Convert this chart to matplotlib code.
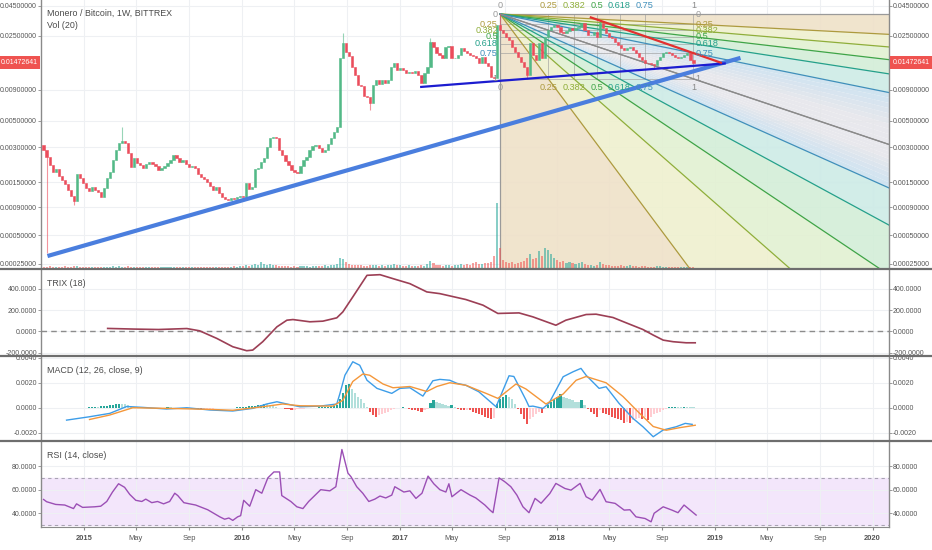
#!/usr/bin/env python3
# -*- coding: utf-8 -*-
"""
Monero / Bitcoin weekly chart (BITTREX) with fib speed fan, TRIX, MACD and RSI panes
"""

import numpy as np
import matplotlib
matplotlib.use("Agg")
import matplotlib.pyplot as plt
import matplotlib.dates as mdates
import matplotlib.transforms as mtransforms
from matplotlib.patches import Polygon
from matplotlib.lines import Line2D
from matplotlib.ticker import FixedLocator, FuncFormatter, NullLocator

plt.rcParams['font.family'] = ['Liberation Sans', 'DejaVu Sans']

# ---------------- data ----------------
START = '2014-09-29'          # first weekly bar
first_open = 0.00313
closes = [
    0.00284, 0.00248, 0.00211, 0.00184, 0.00195, 0.00170, 0.00157, 0.00145, 0.00128, 0.00113,
    0.00102, 0.00177, 0.00163, 0.00148, 0.00133, 0.00126, 0.00136, 0.00128, 0.00123, 0.00111,
    0.00133, 0.00163, 0.00184, 0.00233, 0.00284, 0.00326, 0.00339, 0.00326, 0.00268, 0.00203,
    0.00243, 0.00220, 0.00211, 0.00199, 0.00216, 0.00224, 0.00216, 0.00207, 0.00191, 0.00199,
    0.00207, 0.00220, 0.00233, 0.00258, 0.00243, 0.00224, 0.00233, 0.00216, 0.00203, 0.00207,
    0.00199, 0.00177, 0.00167, 0.00160, 0.00151, 0.00139, 0.00128, 0.00136, 0.00121, 0.00111,
    0.00107, 0.00105, 0.00109, 0.00107, 0.00111, 0.00113, 0.00111, 0.00148, 0.00131, 0.00136,
    0.00195, 0.00199, 0.00224, 0.00243, 0.00302, 0.00359, 0.00366, 0.00359, 0.00284, 0.00258,
    0.00229, 0.00211, 0.00191, 0.00184, 0.00180, 0.00207, 0.00233, 0.00248, 0.00284, 0.00307,
    0.00313, 0.00296, 0.00273, 0.00284, 0.00320, 0.00359, 0.00402, 0.00443, 0.0162, 0.0218,
    0.0182, 0.0168, 0.0136, 0.0118, 0.00985, 0.00967, 0.00802, 0.00787, 0.00702, 0.00985,
    0.0108, 0.0100, 0.0108, 0.0102, 0.0108, 0.0136, 0.01464, 0.0129, 0.0134, 0.0129,
    0.0122, 0.0125, 0.0122, 0.0127, 0.0118, 0.0102, 0.0122, 0.0136, 0.0222, 0.0201,
    0.0178, 0.0172, 0.0162, 0.0201, 0.0205, 0.0162, 0.0162, 0.0172, 0.0197, 0.0186,
    0.0178, 0.0172, 0.0168, 0.0162, 0.01464, 0.0165, 0.01464, 0.0139, 0.0114, 0.0112,
    0.0310, 0.0281, 0.0265, 0.0245, 0.0231, 0.0201, 0.0182, 0.0165, 0.0149, 0.0136,
    0.0118, 0.0218, 0.0172, 0.0155, 0.0218, 0.0162, 0.0245, 0.0281, 0.0298, 0.0310,
    0.0298, 0.0270, 0.0265, 0.0275, 0.0292, 0.0281, 0.0292, 0.0298, 0.0322, 0.0281,
    0.0255, 0.0255, 0.0270, 0.0245, 0.0322, 0.0292, 0.0265, 0.0245, 0.0240, 0.0222,
    0.0209, 0.0197, 0.0189, 0.0197, 0.0201, 0.0189, 0.0178, 0.0165, 0.0155, 0.01464,
    0.01455, 0.01438, 0.0141, 0.0155, 0.0165, 0.0178, 0.0182, 0.0178, 0.0172, 0.0165,
    0.0162, 0.0165, 0.0172, 0.0178, 0.0155, 0.01472641,
]
last_price = 0.01472641

# notable wicks: week index and extreme price
wick_weeks = [1, 10, 26, 99, 108, 128, 151, 160, 184, 202]
wick_prices = [0.000326, 0.00094, 0.00443, 0.0265, 0.0061, 0.024, 0.0383, 0.0110, 0.0341, 0.0134]

volume = [
    1, 1, 2, 1, 1, 1, 1, 2, 1, 1,  2, 2, 1, 1, 1, 1, 1, 1, 1, 1,
    1, 1, 1, 2, 1, 2, 1, 1, 2, 1,  1, 1, 1, 1, 1, 1, 1, 1, 1, 1,
    1, 1, 1, 1, 1, 1, 1, 1, 1, 1,  1, 1, 1, 1, 1, 1, 1, 1, 1, 1,
    1, 1, 1, 2, 1, 2, 2, 3, 2, 3,  4, 3, 6, 4, 3, 4, 3, 3, 2, 2,
    2, 2, 1, 2, 1, 2, 2, 2, 1, 2,  2, 2, 2, 3, 2, 3, 3, 4, 10, 9,
    6, 4, 3, 3, 3, 3, 2, 2, 3, 3,  3, 2, 3, 2, 3, 3, 4, 3, 3, 2,
    2, 3, 2, 2, 2, 3, 2, 4, 7, 5,  3, 3, 2, 3, 3, 2, 3, 3, 4, 3,
    4, 3, 5, 6, 4, 4, 5, 5, 6, 12,  65, 20, 8, 6, 5, 6, 4, 5, 6, 7,
    10, 14, 9, 10, 17, 12, 20, 18, 14, 10,  8, 6, 7, 5, 6, 5, 4, 5, 6, 4,
    3, 3, 2, 3, 6, 4, 3, 3, 2, 2,  2, 3, 2, 2, 3, 2, 2, 1, 2, 2,
    1, 1, 1, 2, 2, 1, 1, 1, 1, 1,  1, 1, 1, 1, 1, 1,
]

# MACD histogram, one value per week from week 15
hist_start = 15
macd_hist = [
    0.00005, 0.00008, 0.0001, 0.0001, 0.00012, 0.00014, 0.00016, 0.0002, 0.00024, 0.00028,
    0.0003, 0.0003, 0.00028, 0.0002, 0.00012, 0.00006, 0.00003, 0.00002, 0.00001, 0.00001,
    0.00001, 0.0, -0.00001, -0.00001, 0.00001, 0.00002, 0.00003, 0.00003, 0.00002, 0.00001,
    0.0, -0.00002, -0.00003, -0.00005, -0.00008, -0.0001, -0.00012, -0.00013, -0.00012, -0.0001,
    -0.00008, -0.00006, -0.00004, -0.00003, -0.00002, -0.00001, 0.00001, 0.00002, 0.00002, 0.00003,
    0.00005, 0.00008, 0.0001, 0.00012, 0.00014, 0.00018, 0.00022, 0.00026, 0.0003, 0.00028,
    0.00022, 0.00015, 0.00008, 0.00002, -0.00004, -0.0001, -0.00012, -0.00014, -0.00014, -0.00012,
    -0.0001, -0.00008, -0.00005, -0.00003, -0.00001, 0.00001, 0.00003, 0.00005, 0.00008, 0.0001,
    0.00012, 0.00015, 0.0002, 0.0007, 0.0012, 0.0018, 0.0019, 0.0015, 0.0012, 0.0009,
    0.0007, 0.0004, 0.0001, -0.0003, -0.0006, -0.0007, -0.0006, -0.0005, -0.0004, -0.0003,
    -0.0002, -0.0001, -0.00005, 0.00002, 0.00003, -0.00005, -0.0001, -0.00015, -0.0002, -0.00025,
    -0.0003, -0.0002, -0.0001, 0.0004, 0.0006, 0.0005, 0.0004, 0.0003, 0.0002, 0.00015,
    0.0002, 0.00005, -0.0001, -0.00015, -0.0002, -0.00015, -0.0002, -0.0003, -0.0004, -0.0005,
    -0.0006, -0.0007, -0.0008, -0.0009, -0.0008, 0.0003, 0.0007, 0.0009, 0.001, 0.0009,
    0.0007, 0.0003, -0.0001, -0.0005, -0.0009, -0.0013, -0.0009, -0.0007, -0.0005, -0.0003,
    -0.0004, -0.0001, 0.0002, 0.0005, 0.0007, 0.0009, 0.0011, 0.0009, 0.0008, 0.0007,
    0.0006, 0.0005, 0.0005, 0.0006, 0.0002, -0.0001, -0.0003, -0.0005, -0.0007, -0.0002,
    -0.0004, -0.0005, -0.0006, -0.0007, -0.0008, -0.0009, -0.001, -0.0012, -0.0011, -0.0012,
    -0.001, -0.0009, -0.0008, -0.0009, -0.0007, -0.001, -0.0007, -0.0005, -0.0004, -0.0003,
    -0.0002, -0.0001, 0.00003, 0.00008, 0.0001, 0.00006, 0.00005, 0.0001, 0.0001, 0.00008, 0.00003,
]

macd_w = [7.6, 15.2, 21.9, 27.5, 32.8, 40.7, 47.4, 55, 62.6, 69.2, 73.8, 77.2, 80.5, 84.8, 91.4,
          97, 98, 99.7, 102.3, 104.6, 107, 110.3, 115.2, 117.9, 121.2, 125.5, 128.8, 131.1, 134.4,
          136.8, 139.7, 144, 149.7, 154, 155.6, 159.6, 160.6, 161.9, 165.2, 167.2, 171.9, 175.2,
          177.8, 179.5, 183.8, 186.1, 190.4, 195, 198.3, 201.7, 205, 209.3, 212.3, 214.6]
macd_v = [-0.00099, -0.00072, -0.00045, 0.0001, 0.00003, -0.0001, 0.0, -0.00018, -0.00026, -0.00005,
          0.0003, 0.00048, 0.0003, 0.00008, 0.00013, 0.0003, 0.0011, 0.0026, 0.00368, 0.0034,
          0.0022, 0.00155, 0.00115, 0.00155, 0.0016, 0.00093, 0.00216, 0.00227, 0.0022, 0.00195,
          0.0018, 0.00128, 0.00008, 0.00256, 0.0025, 0.00062, 0.0001, 0.00013, -0.00005, 0.00035,
          0.00248, 0.00288, 0.00315, 0.0026, 0.00155, 0.00168, 0.00035, -0.00085, -0.00152,
          -0.00232, -0.00178, -0.00152, -0.00125, -0.00133]
signal_w = [15.2, 21.9, 29.5, 40.7, 55, 62.6, 72.5, 79.1, 84.8, 95.7, 99, 102.3, 105.6, 107.9,
            112.3, 115.6, 121.2, 126.8, 130.1, 134.4, 139.7, 146.4, 150.3, 156.3, 159.6, 166.2,
            171.9, 176.2, 179.5, 186.1, 191.7, 197, 201.7, 206, 210.3, 215.6]
signal_v = [-0.00094, -0.00058, 0.0, -0.00005, -0.00013, -0.0002, 0.00008, 0.0003, 0.00016, 0.00013,
            0.0006, 0.0021, 0.0027, 0.0026, 0.0019, 0.0016, 0.0017, 0.0013, 0.0017, 0.002,
            0.0018, 0.00115, 0.00075, 0.0019, 0.0015, 0.0003, 0.0011, 0.0022, 0.0025, 0.002,
            0.0009, -0.0004, -0.0015, -0.0018, -0.0016, -0.0014]

trix_w = [21.2, 30, 38, 47.4, 51.6, 57.3, 62.6, 67.2, 69.2, 72.5, 77.2, 80.5, 82.5, 88.1, 92.4,
          97, 99, 102.3, 107, 111.3, 115.6, 121.2, 126.8, 131.1, 139.7, 145.4, 150.3, 157.3,
          161.9, 169.5, 172.8, 179.5, 182.8, 188.4, 192.7, 198.3, 201.7, 205, 208.3, 212.6, 215.6]
trix_v = [28, 22, 18, 27, 6, -65, -143, -180, -174, -96, 43, 105, 111, 90, 96,
          127, 182, 322, 524, 530, 493, 446, 369, 353, 298, 245, 168, 173,
          136, 58, 105, 158, 161, 130, 81, 18, -34, -81, -96, -106, -106]

rsi_w = [0, 1, 4, 7, 9.9, 10.9, 12.9, 16.9, 18.9, 20.9, 22.8, 24.8, 26.8, 28.5, 30.5, 32.5, 33.8,
         35.8, 37.7, 39.7, 41.7, 43.4, 44.4, 46.4, 48.3, 50.3, 52.3, 54.3, 56.3, 58.3, 59.9, 61.3,
         62.6, 64.2, 65.2, 66.2, 68.2, 70.2, 72.2, 74.2, 76.2, 78.1, 78.8, 81.8, 83.8, 85.8, 87.7,
         89.7, 91.7, 94.7, 96.7, 98.7, 100.7, 101.7, 103.6, 105.6, 107.6, 109.6, 111.3, 113.2,
         115.2, 116.2, 119.2, 121.2, 123.2, 125.2, 127.2, 129.1, 131.1, 133.1, 134.1, 135.1, 138.1,
         141.1, 143, 146, 147.7, 148.7, 150.7, 152.6, 154.6, 156.6, 158.6, 160.6, 162.6, 164.6,
         167.5, 169.5, 172.5, 174.5, 177.5, 179.5, 181.5, 184.1, 186.1, 189.1, 192.1, 194, 196,
         199, 201, 202, 205, 207.9, 209.9, 211.9, 215.9]
rsi_v = [51.7, 49.8, 47.5, 47, 44, 48, 45, 45.5, 46, 50, 58, 65, 62, 56, 51, 50, 52,
         49, 50, 48, 50, 57, 55, 49, 48, 47, 45, 43, 40, 37, 35, 36,
         34, 37, 38, 51, 46, 60, 57, 70, 75, 75, 55, 50, 45.5, 44, 50,
         55, 60, 59, 62.5, 94, 74, 71, 62.5, 57, 50, 52, 54.6, 53,
         55.4, 62.5, 58, 59, 52.6, 57, 71.5, 65, 60, 58, 65, 54, 60,
         55.4, 53, 47, 42.7, 40.5, 70, 66.7, 62.5, 55.4, 45.5, 40.5, 52.6, 48.5,
         56.8, 65.3, 61, 59.6, 65.3, 54, 51.2, 60.2, 49.8, 48.4, 42.7, 43, 37,
         35.6, 32.8, 40, 45.5, 42.7, 40.5, 47, 38.5]

# fib speed resistance fan: from the Aug 2017 high to the last bar
fan_weeks = (151, 215)
fan_prices = (0.0383, 0.0110)
fan_levels = [0, 0.25, 0.382, 0.5, 0.618, 0.75, 1]

# trend lines (dates, prices)
trend_long = (['2014-10-08', '2019-03-01'], [0.000303, 0.0162])
trend_flat = (['2017-02-17', '2019-01-26'], [0.0095, 0.01455])
trend_down = (['2018-03-17', '2019-01-17'], [0.0361, 0.01464])

# price axis labels and the pixel row at which each sits
price_ticks = [0.00025, 0.0005, 0.0009, 0.0015, 0.003, 0.005, 0.009, 0.01472641, 0.025, 0.045]
price_rows = [264, 235.3, 207.3, 182.3, 147.3, 120.7, 90, 62.7, 36, 5.7]

month_ticks = ['2015-01-01', '2015-05-01', '2015-09-01', '2016-01-01', '2016-05-01', '2016-09-01',
               '2017-01-01', '2017-05-01', '2017-09-01', '2018-01-01', '2018-05-01', '2018-09-01',
               '2019-01-01', '2019-05-01', '2019-09-01', '2020-01-01']
month_labels = ['2015', 'May', 'Sep', '2016', 'May', 'Sep', '2017', 'May', 'Sep',
                '2018', 'May', 'Sep', '2019', 'May', 'Sep', '2020']

# ---------------- styling ----------------
UP = '#53b987'
DOWN = '#eb4d5c'
GRID = '#eef0f3'
TXT = '#4a4a4a'
AXC = '#8a8a8a'
LABEL_FS = 5.0
TITLE_FS = 6.4

# price scale as TradingView draws it (log, calibrated on the label rows)
LT = np.log10(price_ticks)
POS = -np.array(price_rows, float)
S_LO = (POS[1] - POS[0]) / (LT[1] - LT[0])
S_HI = (POS[-1] - POS[-2]) / (LT[-1] - LT[-2])


def fwd(p):
    lp = np.log10(np.maximum(np.asarray(p, float), 1e-300))
    mid = np.interp(lp, LT, POS)
    lo = POS[0] + (lp - LT[0]) * S_LO
    hi = POS[-1] + (lp - LT[-1]) * S_HI
    return np.where(lp < LT[0], lo, np.where(lp > LT[-1], hi, mid))


def inv(s):
    s = np.asarray(s, float)
    mid = np.interp(s, POS, LT)
    lo = LT[0] + (s - POS[0]) / S_LO
    hi = LT[-1] + (s - POS[-1]) / S_HI
    return 10 ** np.where(s < POS[0], lo, np.where(s > POS[-1], hi, mid))


def wdate(w):
    base = mdates.date2num(np.datetime64(START))
    return base + 7.0 * np.asarray(w, float)


def style_pane(ax, ticks, fmt):
    ax.set_xlim(mdates.date2num(np.datetime64('2014-09-23')), mdates.date2num(np.datetime64('2020-02-08')))
    ax.yaxis.set_major_locator(FixedLocator(ticks))
    ax.yaxis.set_minor_locator(NullLocator())
    ax.yaxis.set_major_formatter(FuncFormatter(lambda v, p: fmt.format(v)))
    ax.tick_params(axis='y', left=True, right=True, labelleft=True, labelright=True,
                   length=2, width=0.6, color=AXC, labelsize=LABEL_FS, labelcolor='#555555', pad=0.8)
    ax.xaxis.set_major_locator(FixedLocator(mdates.date2num(np.array(month_ticks, dtype='datetime64[D]'))))
    ax.xaxis.set_minor_locator(NullLocator())
    ax.tick_params(axis='x', bottom=False, labelbottom=False)
    ax.grid(True, color=GRID, lw=0.8)
    ax.set_axisbelow(True)
    for side in ('top', 'bottom'):
        ax.spines[side].set_visible(False)
    for side in ('left', 'right'):
        ax.spines[side].set_color(AXC)
        ax.spines[side].set_linewidth(1)


def draw_fan(ax):
    X0, X1 = wdate(fan_weeks[0]), wdate(fan_weeks[1])
    p0, p1 = fan_prices
    S0, S1 = fwd(p0), fwd(p1)
    K = 40.0
    colors = ['#9a9a9a', '#ad9a3e', '#8fae3a', '#3fa447', '#24a08a', '#3f8fba', '#8a8a8a']
    fills = ['#efe1c8', '#eff0cf', '#e2f1d2', '#d3eed8', '#cdebe6']
    blue, gray = np.array([0.79, 0.88, 0.94]), np.array([0.90, 0.90, 0.92])

    right = [(X1, float(fwd(p0 - L * (p0 - p1)))) for L in fan_levels]
    bottom = [(X0 + L * (X1 - X0), float(S1)) for L in fan_levels]

    def far(pt):
        return (X0 + K * (pt[0] - X0), S0 + K * (pt[1] - S0))

    def wedge(a, b, color):
        fa, fb = far(a), far(b)
        xs = [X0, fa[0], fb[0]]
        ys = inv([S0, fa[1], fb[1]])
        ax.add_patch(Polygon(np.column_stack([xs, ys]), closed=True, fc=color, ec='none',
                             alpha=0.9, zorder=0.6))

    for k in range(5):
        wedge(right[k], right[k + 1], fills[k])
        wedge(bottom[k], bottom[k + 1], fills[k])
    # 0.75 - 1 band fades from blue to grey
    n = 10
    for j in range(n):
        u0, u1 = j / n, (j + 1) / n
        c = blue + (gray - blue) * min(1.0, (u0 + u1) / 1.3)
        for pts in (right, bottom):
            a = (pts[5][0] + u0 * (pts[6][0] - pts[5][0]), pts[5][1] + u0 * (pts[6][1] - pts[5][1]))
            b = (pts[5][0] + u1 * (pts[6][0] - pts[5][0]), pts[5][1] + u1 * (pts[6][1] - pts[5][1]))
            wedge(a, b, tuple(c))

    # rays
    for k, L in enumerate(fan_levels):
        for pt in (right[k], bottom[k]):
            f = far(pt)
            ax.plot([X0, f[0]], inv([S0, f[1]]), color=colors[k], lw=0.9, zorder=1.2)

    # box grid
    for k, L in enumerate(fan_levels):
        pL = p0 - L * (p0 - p1)
        tL = X0 + L * (X1 - X0)
        ax.plot([X0, X1], [pL, pL], color='#9a9a9a', lw=0.6, alpha=0.7, zorder=1.1)
        ax.plot([tL, tL], [p0, p1], color='#9a9a9a', lw=0.6, alpha=0.7, zorder=1.1)

    # level labels
    lab = dict(fontsize=6.6, zorder=6, annotation_clip=False)
    for k, L in enumerate(fan_levels):
        t = f'{L:g}'
        tL = X0 + L * (X1 - X0)
        pL = p0 - L * (p0 - p1)
        ax.annotate(t, (tL, p0), xytext=(0, 6), textcoords='offset points', ha='center', va='center',
                    color=colors[k], **lab)
        ax.annotate(t, (tL, p1), xytext=(0, -6.5), textcoords='offset points', ha='center', va='center',
                    color=colors[k], **lab)
        ax.annotate(t, (X0, pL), xytext=(-1.5, 0), textcoords='offset points', ha='right', va='center',
                    color=colors[k], **lab)
        ax.annotate(t, (X1, pL), xytext=(1.5, 0), textcoords='offset points', ha='left', va='center',
                    color=colors[k], **lab)


def main():
    fig = plt.figure(figsize=(9.32, 5.5), dpi=100)
    H = 550.0
    L, W = 41 / 932, 848 / 932
    ax_main = fig.add_axes([L, 282 / H, W, 268 / H])
    ax_trix = fig.add_axes([L, 195 / H, W, 86 / H])
    ax_macd = fig.add_axes([L, 110 / H, W, 84 / H])
    ax_rsi = fig.add_axes([L, 23 / H, W, 86 / H])

    # ----- price pane -----
    ax_main.set_yscale('function', functions=(fwd, inv))
    style_pane(ax_main, [t for t in price_ticks if t != last_price], '{:.8f}')
    ax_main.set_ylim(float(inv(-268)), float(inv(0)))

    c = np.array(closes)
    o = np.concatenate([[first_open], c[:-1]])
    d = wdate(np.arange(len(c)))
    up = c >= o
    col = np.where(up, UP, DOWN)

    # wicks
    for w, p in zip(wick_weeks, wick_prices):
        ax_main.vlines(d[w], p, (o[w] + c[w]) / 2, color=col[w], lw=0.8, alpha=0.6, zorder=2.5)
    ax_main.bar(d, c - o, bottom=o, width=5.2, color=col, edgecolor=col, linewidth=0.4, zorder=3)

    draw_fan(ax_main)

    for (dates, prices), colr, lw in ((trend_long, '#4a7ede', 3.0), (trend_flat, '#1c1cd0', 1.6),
                                      (trend_down, '#e2302f', 1.6)):
        ax_main.plot(mdates.date2num(np.array(dates, dtype='datetime64[D]')), prices,
                     color=colr, lw=lw, solid_capstyle='butt', zorder=4)

    # volume overlay
    ax_vol = fig.add_axes(ax_main.get_position(), sharex=ax_main)
    ax_vol.patch.set_visible(False)
    ax_vol.axis('off')
    ax_vol.set_ylim(0, 268)
    vcol = np.where(up, '#26a69a', '#ef5350')
    ax_vol.bar(d, volume, width=4.8, color=vcol, alpha=0.55, zorder=2)

    # last price tags
    tr = mtransforms.blended_transform_factory(ax_main.transAxes, ax_main.transData)
    box = dict(boxstyle='square,pad=0.4', fc='#ef5350', ec='none')
    for x, ha in ((-0.004, 'right'), (1.004, 'left')):
        ax_main.text(x, last_price, f'{last_price:.8f}', transform=tr, ha=ha, va='center', color='white',
                     fontsize=LABEL_FS, bbox=box, clip_on=False, zorder=10)

    ax_main.text(0.007, 0.951, 'Monero / Bitcoin, 1W, BITTREX', transform=ax_main.transAxes,
                 fontsize=TITLE_FS, color=TXT, va='center', zorder=10)
    ax_main.text(0.007, 0.903, 'Vol (20)', transform=ax_main.transAxes,
                 fontsize=TITLE_FS, color=TXT, va='center', zorder=10)

    # ----- TRIX -----
    style_pane(ax_trix, [-200, 0, 200, 400], '{:.4f}')
    ax_trix.set_ylim(-220, 583)
    ax_trix.axhline(0, color='#8c8c8c', lw=1, ls=(0, (4, 3)))
    ax_trix.plot(wdate(trix_w), trix_v, color='#9c3f55', lw=1.2)
    ax_trix.text(0.007, 0.837, 'TRIX (18)', transform=ax_trix.transAxes, fontsize=TITLE_FS, color=TXT, va='center')

    # ----- MACD -----
    style_pane(ax_macd, [-0.002, 0, 0.002, 0.004], '{:.4f}')
    ax_macd.set_ylim(-0.00258, 0.00414)
    h = np.array(macd_hist)
    hp = np.concatenate([[0.0], h[:-1]])
    hcol = np.where(h >= 0, np.where(h > hp, '#26a69a', '#b2dfdb'), np.where(h < hp, '#ef5350', '#ffcdd2'))
    ax_macd.bar(wdate(np.arange(hist_start, hist_start + len(h))), h, width=5.2, color=hcol, zorder=2)
    ax_macd.plot(wdate(macd_w), macd_v, color='#3d9de8', lw=1, zorder=3)
    ax_macd.plot(wdate(signal_w), signal_v, color='#f4973a', lw=1, zorder=3)
    ax_macd.text(0.007, 0.833, 'MACD (12, 26, close, 9)', transform=ax_macd.transAxes,
                 fontsize=TITLE_FS, color=TXT, va='center')

    # ----- RSI -----
    style_pane(ax_rsi, [40, 60, 80], '{:.4f}')
    ax_rsi.set_ylim(28.4, 101.2)
    ax_rsi.axhspan(30, 70, color='#f3e6fb', zorder=0.5)
    for lvl in (30, 70):
        ax_rsi.axhline(lvl, color='#a9a3b3', lw=0.8, ls=(0, (3, 3)), zorder=0.8)
    ax_rsi.plot(wdate(rsi_w), rsi_v, color='#9b4fb5', lw=1, zorder=3)
    ax_rsi.text(0.007, 0.826, 'RSI (14, close)', transform=ax_rsi.transAxes, fontsize=TITLE_FS, color=TXT, va='center')
    ax_rsi.spines['bottom'].set_visible(True)
    ax_rsi.spines['bottom'].set_color(AXC)
    ax_rsi.tick_params(axis='x', bottom=True, labelbottom=True, length=2, color=AXC,
                       labelsize=5.4, labelcolor='#555555', pad=4)
    ax_rsi.set_xticklabels(month_labels)
    for t in ax_rsi.get_xticklabels():
        if t.get_text().isdigit():
            t.set_fontweight('bold')

    # pane separators
    for row in (268.5, 355.5, 440.5):
        fig.add_artist(Line2D([0, 1], [1 - row / H, 1 - row / H], transform=fig.transFigure,
                              color='#6e6e6e', lw=1.6))

    fig.savefig('out.png', dpi=100)


if __name__ == '__main__':
    main()
